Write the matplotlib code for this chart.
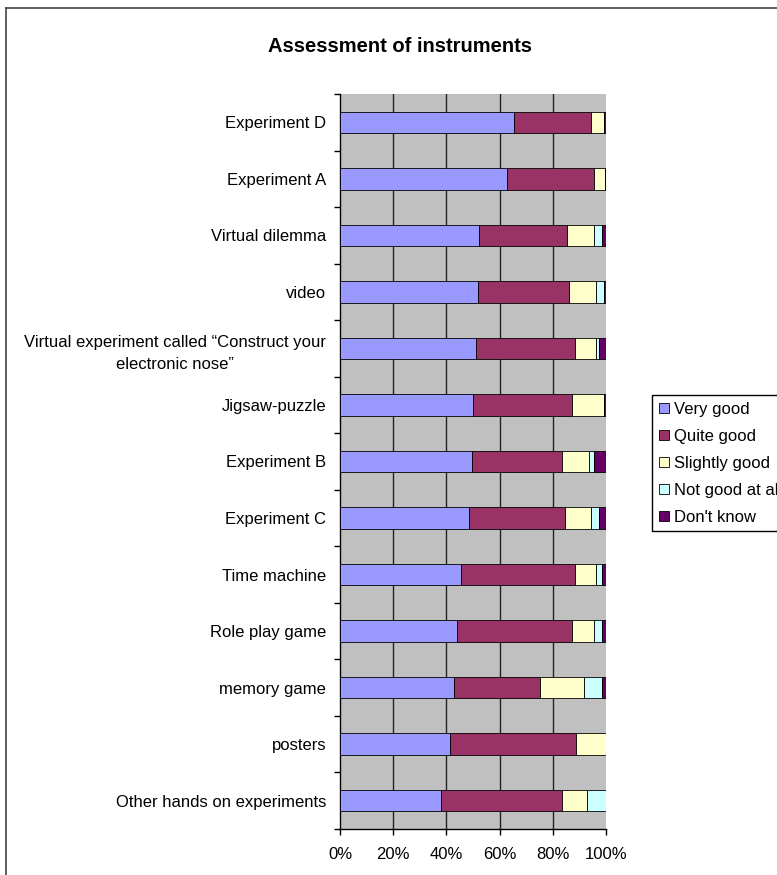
import matplotlib.pyplot as plt
import numpy as np
from matplotlib.lines import Line2D

plt.rcParams['font.family'] = ['Liberation Sans', 'DejaVu Sans']

# categories, top to bottom
categories = ['Experiment D', 'Experiment A', 'Virtual dilemma', 'video',
              'Virtual experiment called \u201cConstruct your\nelectronic nose\u201d',
              'Jigsaw-puzzle', 'Experiment B', 'Experiment C', 'Time machine',
              'Role play game', 'memory game', 'posters', 'Other hands on experiments']
series = ['Very good', 'Quite good', 'Slightly good', 'Not good at all', "Don't know"]

# percentages
very_good = [65.5, 62.8, 52.3, 51.8, 51.1, 50.1, 49.7, 48.4, 45.6, 44.1, 43.0, 41.4, 38.0]
quite_good = [28.9, 32.8, 32.9, 34.3, 37.4, 37.2, 33.9, 36.2, 42.9, 43.2, 32.2, 47.2, 45.5]
slightly_good = [5.0, 3.9, 10.4, 10.0, 7.6, 12.1, 9.9, 9.9, 7.6, 8.3, 16.7, 11.4, 9.2]
not_good = [0.0, 0.0, 2.8, 3.3, 1.1, 0.0, 2.1, 2.7, 2.3, 2.8, 6.5, 0.0, 7.3]
dont_know = [0.6, 0.5, 1.6, 0.6, 2.8, 0.6, 4.4, 2.8, 1.6, 1.6, 1.6, 0.0, 0.0]

colors = ['#9999FF', '#993366', '#FFFFCC', '#CCFFFF', '#660066']

fig = plt.figure(figsize=(7.77, 8.75), dpi=100)
ax = fig.add_axes([340 / 777, 1 - 829 / 875, 266 / 777, 735 / 875])
ax.set_facecolor('#C0C0C0')

y = np.arange(len(categories))
left = np.zeros(len(categories))
for name, vals, c in zip(series, [very_good, quite_good, slightly_good, not_good, dont_know], colors):
    vals = np.array(vals) / 100
    ax.barh(y, vals, left=left, height=0.38, color=c, edgecolor='black',
            linewidth=0.6, label=name, zorder=3)
    left += vals

ax.set_xlim(0, 1)
ax.set_ylim(len(categories) - 0.5, -0.5)
ax.set_xticks([0, 0.2, 0.4, 0.6, 0.8, 1.0])
ax.set_xticklabels(['0%', '20%', '40%', '60%', '80%', '100%'], fontsize=12)
ax.set_yticks(y)
ax.set_yticklabels(categories, fontsize=12, multialignment='center', linespacing=1.6)
ax.set_yticks(np.arange(-0.5, len(categories)), minor=True)
ax.tick_params(axis='y', which='major', length=0, pad=10)
ax.tick_params(axis='y', which='minor', length=4, width=1, direction='out')
ax.tick_params(axis='x', length=4, width=1, direction='out', pad=9)

for xv in [0.2, 0.4, 0.6, 0.8]:
    ax.axvline(xv, color='#222222', linewidth=1, zorder=1)

for s in ['top', 'right']:
    ax.spines[s].set_visible(False)
ax.spines['left'].set_linewidth(1)
ax.spines['bottom'].set_linewidth(1)

fig.text(400 / 777, 1 - 46 / 875, 'Assessment of instruments', ha='center', va='center',
         fontsize=14.5, fontweight='bold')

fig.legend(loc='upper left', bbox_to_anchor=(652 / 777, 1 - 395 / 875), fontsize=12,
           frameon=True, fancybox=False, edgecolor='black', framealpha=1,
           handlelength=0.6, handleheight=0.6, handletextpad=0.3,
           labelspacing=0.72, borderpad=0.4, borderaxespad=0)

# outer chart frame (top and left edges visible)
fig.add_artist(Line2D([6 / 777, 1], [1 - 8 / 875, 1 - 8 / 875], transform=fig.transFigure,
                      color='#444444', linewidth=1.2))
fig.add_artist(Line2D([6 / 777, 6 / 777], [0, 1 - 8 / 875], transform=fig.transFigure,
                      color='#444444', linewidth=1.2))

fig.savefig('out.png', dpi=100)
